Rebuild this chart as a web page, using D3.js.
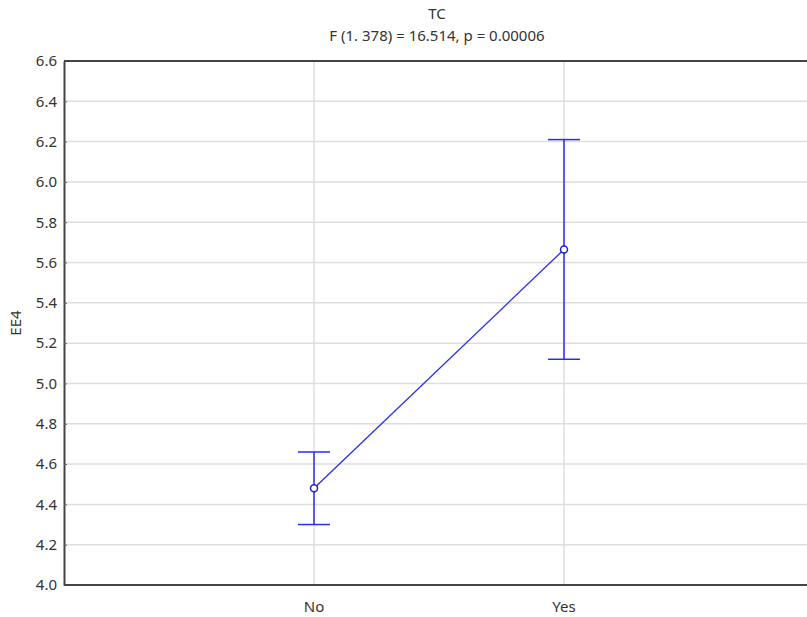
<!DOCTYPE html>
<html>
<head>
<meta charset="utf-8">
<script src="https://cdn.jsdelivr.net/npm/d3@7"></script>
<style>
  body { margin: 0; background: #fff; }
  text { font-family: "Noto Sans", sans-serif; fill: #333; }
</style>
</head>
<body>
<div id="chart"></div>
<script>
// Données
const categories = ["No", "Yes"];
const means = [4.48, 5.665];
const upper = [4.66, 6.21];
const lower = [4.30, 5.12];
const yTicks = [4.0, 4.2, 4.4, 4.6, 4.8, 5.0, 5.2, 5.4, 5.6, 5.8, 6.0, 6.2, 6.4, 6.6];

const width = 807, height = 617;
const margin = { top: 61, left: 64, bottom: 32 };
const fontSize = 15;

const svg = d3.select("#chart").append("svg")
    .attr("width", width)
    .attr("height", height);

const y = d3.scaleLinear()
    .domain([4.0, 6.6])
    .range([height - margin.bottom, margin.top]);

// Les catégories sont placées à 1/3 et 2/3 de la largeur (qui dépasse le cadre)
const x = d3.scalePoint()
    .domain(categories)
    .range([margin.left, margin.left + 750])
    .padding(1);

// Grille horizontale
svg.append("g")
    .selectAll("line")
    .data(yTicks)
    .enter()
    .append("line")
    .attr("x1", margin.left)
    .attr("x2", width)
    .attr("y1", d => y(d))
    .attr("y2", d => y(d))
    .attr("stroke", "#dedede")
    .attr("stroke-width", 1.5);

// Grille verticale
svg.append("g")
    .selectAll("line")
    .data(categories)
    .enter()
    .append("line")
    .attr("x1", d => x(d))
    .attr("x2", d => x(d))
    .attr("y1", y(6.6))
    .attr("y2", y(4.0))
    .attr("stroke", "#dedede")
    .attr("stroke-width", 1.5);

// Axe Y
const yAxis = svg.append("g")
    .attr("transform", `translate(${margin.left},0)`)
    .call(d3.axisLeft(y).tickValues(yTicks).tickFormat(d3.format(".1f")).tickSizeInner(-3).tickSizeOuter(0).tickPadding(7));
yAxis.select(".domain").attr("stroke", "#444").attr("stroke-width", 2);
yAxis.selectAll(".tick line").attr("stroke", "#666");
yAxis.selectAll("text").attr("font-size", fontSize).attr("fill", "#333").attr("font-family", "Noto Sans");

// Cadre haut et bas
svg.append("line")
    .attr("x1", margin.left).attr("x2", width)
    .attr("y1", y(6.6)).attr("y2", y(6.6))
    .attr("stroke", "#444").attr("stroke-width", 2);
svg.append("line")
    .attr("x1", margin.left).attr("x2", width)
    .attr("y1", y(4.0)).attr("y2", y(4.0))
    .attr("stroke", "#444").attr("stroke-width", 2);

// Étiquettes de l'axe X
svg.append("g")
    .selectAll("text")
    .data(categories)
    .enter()
    .append("text")
    .attr("x", d => x(d))
    .attr("y", y(4.0) + 27)
    .attr("text-anchor", "middle")
    .attr("font-size", fontSize)
    .text(d => d);

// Ligne reliant les moyennes
const line = d3.line()
    .x((d, i) => x(categories[i]))
    .y(d => y(d));

svg.append("path")
    .attr("d", line(means))
    .attr("fill", "none")
    .attr("stroke", "#2b2bf0")
    .attr("stroke-width", 1.3);

// Barres d'erreur
const errG = svg.append("g").attr("stroke", "#2b2bf0").attr("stroke-width", 1.5);
categories.forEach((c, i) => {
    errG.append("line")
        .attr("x1", x(c)).attr("x2", x(c))
        .attr("y1", y(upper[i])).attr("y2", y(lower[i]));
    errG.append("line")
        .attr("x1", x(c) - 16).attr("x2", x(c) + 16)
        .attr("y1", y(upper[i])).attr("y2", y(upper[i]));
    errG.append("line")
        .attr("x1", x(c) - 16).attr("x2", x(c) + 16)
        .attr("y1", y(lower[i])).attr("y2", y(lower[i]));
});

// Points des moyennes
svg.append("g")
    .selectAll("circle")
    .data(means)
    .enter()
    .append("circle")
    .attr("cx", (d, i) => x(categories[i]))
    .attr("cy", d => y(d))
    .attr("r", 3.5)
    .attr("fill", "#fff")
    .attr("stroke", "#2020d0")
    .attr("stroke-width", 1.5);

// Titres
svg.append("text")
    .attr("x", 437).attr("y", 19)
    .attr("text-anchor", "middle")
    .attr("font-size", fontSize)
    .text("TC");
svg.append("text")
    .attr("x", 437).attr("y", 41)
    .attr("text-anchor", "middle")
    .attr("font-size", fontSize)
    .text("F (1. 378) = 16.514, p = 0.00006");

// Libellé de l'axe Y
svg.append("text")
    .attr("transform", `translate(21,${(y(4.0) + y(6.6)) / 2}) rotate(-90)`)
    .attr("text-anchor", "middle")
    .attr("font-size", fontSize)
    .text("EE4");
</script>
</body>
</html>
